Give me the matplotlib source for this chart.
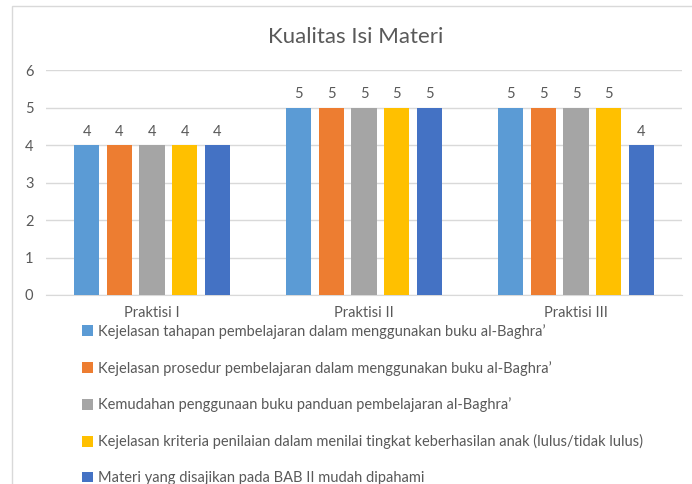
import matplotlib.pyplot as plt
import numpy as np
from matplotlib.patches import Rectangle

plt.rcParams['font.family'] = ['Lato', 'DejaVu Sans']

categories = ['Praktisi I', 'Praktisi II', 'Praktisi III']
series_names = [
    'Kejelasan tahapan pembelajaran dalam menggunakan buku al-Baghra\u2019',
    'Kejelasan prosedur pembelajaran dalam menggunakan buku al-Baghra\u2019',
    'Kemudahan penggunaan buku panduan pembelajaran al-Baghra\u2019',
    'Kejelasan kriteria penilaian dalam menilai tingkat keberhasilan anak (lulus/tidak lulus)',
    'Materi yang disajikan pada BAB II mudah dipahami',
]
s1 = [4, 5, 5]
s2 = [4, 5, 5]
s3 = [4, 5, 5]
s4 = [4, 5, 5]
s5 = [4, 5, 4]
series = [s1, s2, s3, s4, s5]
colors = ['#5B9BD5', '#ED7D31', '#A5A5A5', '#FFC000', '#4472C4']
text_color = '#595959'

fig = plt.figure(figsize=(6.92, 4.84), dpi=100)
fig.patch.set_facecolor('white')

# chart frame
fig.patches.append(Rectangle((12 / 692, -0.1), 1.0, 1 - 6 / 484 + 0.1,
                             transform=fig.transFigure, fill=False,
                             edgecolor='#D9D9D9', linewidth=1.0))

ax = fig.add_axes([46 / 692, 1 - 295 / 484, (682 - 46) / 692, (295 - 70) / 484])
x = np.arange(len(categories))
width = 0.118
step = 0.154
for i, (vals, name, c) in enumerate(zip(series, series_names, colors)):
    pos = x + (i - 2) * step
    bars = ax.bar(pos, vals, width, color=c, label=name, zorder=3)
    for b, v in zip(bars, vals):
        ax.text(b.get_x() + b.get_width() / 2, v + 0.17, str(v),
                ha='center', va='bottom', fontsize=10.5, color=text_color)

ax.set_xlim(-0.5, 2.5)
ax.set_ylim(0, 6)
ax.set_yticks(range(7))
ax.yaxis.grid(True, color='#D9D9D9', linewidth=1.0, zorder=0)
ax.set_xticks(x)
ax.set_xticklabels(categories)
for s in ['top', 'right', 'left']:
    ax.spines[s].set_visible(False)
ax.spines['bottom'].set_color('#D9D9D9')
ax.tick_params(axis='both', length=0, colors=text_color, labelsize=10.5)
ax.tick_params(axis='y', pad=9)
ax.tick_params(axis='x', pad=8)

fig.text(356 / 692, 1 - 37 / 484, 'Kualitas Isi Materi', ha='center', va='center',
         fontsize=16, color=text_color)

handles, labels = ax.get_legend_handles_labels()
fig.legend(handles, labels, loc='upper left', bbox_to_anchor=(82 / 692, 1 - 324 / 484),
           frameon=False, fontsize=10.5, labelcolor=text_color,
           handlelength=0.75, handleheight=0.75, handletextpad=0.35,
           labelspacing=1.5, borderaxespad=0, borderpad=0)

fig.savefig('out.png', dpi=100)
